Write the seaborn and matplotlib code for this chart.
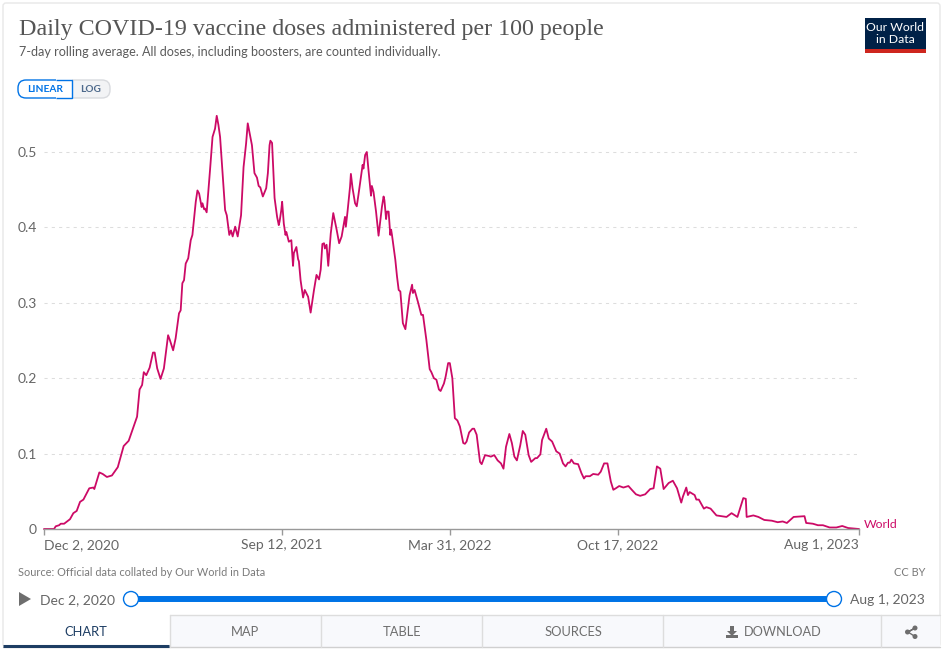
import matplotlib
matplotlib.use('Agg')

import pandas as pd
import matplotlib.pyplot as plt
from matplotlib.patches import Rectangle, Circle, Polygon, FancyBboxPatch
import seaborn as sns

start_date = "2020-12-02"
end_date = "2023-08-01"

# days since Dec 2, 2020
days = [0, 12, 14, 18, 20, 24, 31, 35, 39, 43, 47, 54, 59, 60, 66, 70, 75, 81, 88, 95,
        101, 111, 114, 117, 119, 122, 126, 130, 132, 135, 139, 143, 148, 150, 154, 157, 161, 163, 165, 167,
        169, 172, 175, 177, 181, 183, 185, 188, 189, 191, 192, 194, 198, 201, 204, 206, 208, 210, 214, 216,
        218, 221, 223, 225, 228, 231, 235, 238, 241, 243, 248, 251, 254, 256, 258, 261, 265, 267, 269, 270,
        272, 275, 278, 280, 281, 283, 284, 286, 288, 289, 292, 295, 297, 298, 301, 303, 304, 306, 309, 311,
        315, 318, 322, 325, 328, 330, 332, 334, 335, 337, 339, 342, 345, 349, 352, 355, 357, 359, 360, 362,
        365, 366, 368, 371, 373, 375, 378, 380, 381, 383, 385, 387, 390, 391, 393, 396, 399, 403, 405, 406,
        408, 409, 411, 413, 414, 415, 419, 421, 423, 425, 428, 431, 436, 439, 440, 442, 446, 450, 452, 456,
        460, 462, 465, 468, 471, 473, 477, 479, 482, 484, 487, 490, 493, 496, 500, 502, 504, 507, 511, 513,
        516, 520, 522, 526, 530, 533, 537, 541, 545, 548, 551, 555, 558, 561, 564, 568, 571, 574, 578, 581,
        586, 588, 592, 594, 599, 602, 606, 611, 615, 619, 622, 625, 627, 629, 632, 637, 641, 644, 646, 651,
        655, 661, 664, 668, 672, 676, 679, 682, 686, 691, 697, 701, 706, 711, 717, 723, 727, 731, 735, 739,
        745, 750, 755, 760, 762, 766, 768, 770, 776, 778, 781, 787, 790, 795, 802, 808, 814, 820, 827, 834,
        837, 838, 846, 852, 859, 868, 875, 881, 886, 894, 907, 909, 917, 923, 929, 937, 945, 952, 959, 972]

doses = [0, 0, .0036, .005, .007, .007, .013, .021, .024, .036, .039, .054, .055, .053, .075, .073, .069, .071, .082, .110,
         .117, .149, .185, .191, .208, .204, .214, .234, .234, .213, .199, .213, .257, .251, .237, .253, .286, .290, .326, .330,
         .352, .359, .383, .390, .434, .449, .445, .427, .432, .424, .425, .420, .476, .520, .531, .548, .536, .520, .454, .423,
         .416, .390, .396, .388, .401, .388, .416, .480, .511, .538, .509, .472, .466, .455, .453, .441, .452, .472, .509, .515,
         .512, .439, .414, .403, .408, .423, .434, .405, .390, .394, .381, .383, .349, .366, .374, .358, .355, .330, .307, .317,
         .308, .287, .317, .337, .331, .344, .378, .379, .372, .377, .349, .392, .419, .397, .379, .388, .401, .414, .401, .421,
         .454, .471, .452, .432, .428, .443, .467, .483, .478, .496, .500, .476, .442, .455, .447, .421, .389, .427, .441, .436,
         .411, .421, .421, .390, .397, .390, .357, .335, .317, .315, .273, .265, .310, .324, .313, .317, .301, .284, .284, .251,
         .212, .208, .200, .198, .185, .183, .193, .202, .220, .220, .200, .147, .144, .136, .114, .113, .116, .128, .133, .133,
         .125, .089, .086, .098, .097, .096, .098, .091, .087, .080, .109, .126, .114, .096, .091, .111, .130, .125, .098, .089,
         .094, .094, .099, .118, .133, .120, .116, .103, .100, .087, .083, .088, .088, .092, .087, .086, .074, .067, .070, .070,
         .073, .072, .076, .087, .087, .063, .052, .054, .057, .055, .057, .052, .046, .044, .046, .053, .054, .083, .080, .053,
         .061, .064, .054, .035, .043, .055, .045, .049, .045, .039, .039, .027, .029, .027, .018, .017, .016, .021, .016, .041,
         .040, .016, .018, .016, .012, .011, .009, .010, .008, .016, .017, .008, .007, .005, .005, .002, .002, .004, .0013, 0]

y_ticks = [0, 0.1, 0.2, 0.3, 0.4, 0.5]
y_labels = ["0", "0.1", "0.2", "0.3", "0.4", "0.5"]
x_ticks = ["2020-12-02", "2021-09-12", "2022-03-31", "2022-10-17", "2023-08-01"]
x_labels = ["Dec 2, 2020", "Sep 12, 2021", "Mar 31, 2022", "Oct 17, 2022", "Aug 1, 2023"]
tabs = ["CHART", "MAP", "TABLE", "SOURCES"]

LINE = "#cc0a66"
GREY = "#666666"
BLUE = "#0073e6"

sns.set_style("white")
plt.rcParams['font.family'] = ['Lato', 'DejaVu Sans']

W, H = 943, 649
fig = plt.figure(figsize=(W / 100, H / 100), dpi=100)

# page furniture, in pixels from the top left
ui = fig.add_axes([0, 0, 1, 1], zorder=0)
ui.set_xlim(0, W)
ui.set_ylim(H, 0)
ui.axis('off')

ui.add_patch(FancyBboxPatch((3, 3), 937, 644, boxstyle="round,pad=0,rounding_size=3",
                            fc="white", ec="#e8e8e8", lw=1))

ui.text(19, 30, "Daily COVID-19 vaccine doses administered per 100 people", family="Liberation Serif",
        fontsize=17.3, color="#555555", va="center")
ui.text(19, 52, "7-day rolling average. All doses, including boosters, are counted individually.",
        fontsize=9.13, color="#5b5b5b", va="center")

# logo
ui.add_patch(Rectangle((865, 18), 61, 35, fc="#002147", ec="none"))
ui.add_patch(Rectangle((865, 49), 61, 4, fc="#ce261e", ec="none"))
ui.text(895.5, 33.5, "Our World\nin Data", color="white", fontsize=8.8, ha="center", va="center", linespacing=1.1)

# linear / log toggle
ui.add_patch(FancyBboxPatch((60, 80), 50, 18, boxstyle="round,pad=0,rounding_size=8",
                            fc="#f2f3f5", ec="#d8dade", lw=1))
ui.add_patch(FancyBboxPatch((18, 80), 50, 18, boxstyle="round,pad=0,rounding_size=8",
                            fc="white", ec=BLUE, lw=1))
ui.add_patch(Rectangle((56, 79), 16, 20, fc="white", ec="none"))
ui.plot([56, 72, 72, 56], [80, 80, 98, 98], color=BLUE, lw=1, solid_capstyle="butt", solid_joinstyle="miter")
ui.text(45, 89.5, "LINEAR", color=BLUE, fontsize=7.3, fontweight="bold", ha="center", va="center")
ui.text(91, 89.5, "LOG", color="#4e6a8c", fontsize=7.3, fontweight="bold", ha="center", va="center")

ui.text(18, 572, "Source: Official data collated by Our World in Data", color="#7a7a7a", fontsize=7.94, va="center")
ui.text(925, 572, "CC BY", color="#7a7a7a", fontsize=7.94, ha="right", va="center")

# timeline slider
ui.add_patch(Polygon([(19, 592), (19, 606), (31, 599)], fc="#6e6e6e", ec="none"))
ui.text(40, 600, x_labels[0], color=GREY, fontsize=10, va="center")
ui.text(850, 600, x_labels[-1], color=GREY, fontsize=10, va="center")
ui.plot([131, 834], [599, 599], color=BLUE, lw=4.3, solid_capstyle="butt")
for cx in [131, 834]:
    ui.add_patch(Circle((cx, 599), 7.5, fc="white", ec=BLUE, lw=1, zorder=5))

# tab bar
ui.add_patch(Rectangle((170, 615), 770, 32, fc="#f8f9fc", ec="none"))
ui.plot([170, 940], [615, 615], color="#dddddd", lw=1)
ui.plot([3, 940], [647, 647], color="#d0d0d0", lw=1)
for sep in [170, 321, 482, 663, 881]:
    ui.plot([sep, sep], [615, 647], color="#dddddd", lw=1)
ui.plot([3, 169], [646, 646], color="#1d3d63", lw=2.2, solid_capstyle="butt")
for label, cx in zip(tabs, [86, 245, 402, 573]):
    ui.text(cx, 632, label, color="#1d3d63" if label == "CHART" else "#6e6e6e",
            fontsize=9.25, ha="center", va="center")
ui.text(744, 632, "DOWNLOAD", color="#6e6e6e", fontsize=9.15, va="center")
ui.add_patch(Polygon([(730, 626), (734, 626), (734, 631), (737, 631), (732, 636), (727, 631), (730, 631)],
                     fc="#6e6e6e", ec="none"))
ui.add_patch(Rectangle((726, 634.5), 12, 3.5, fc="#6e6e6e", ec="none"))
ui.plot([908, 915, 908], [632, 628, 632], color="#6e6e6e", lw=1)
ui.plot([908, 915], [632, 636.5], color="#6e6e6e", lw=1)
for cx, cy in [(907.5, 632), (915, 628), (915, 636.5)]:
    ui.add_patch(Circle((cx, cy), 2.5, fc="#6e6e6e", ec="none"))

# the chart itself
df = pd.DataFrame({"date": pd.to_datetime(start_date) + pd.to_timedelta(days, unit="D"), "doses": doses})

y_top = 0.56
ax = fig.add_axes([44 / W, (H - 529) / H, 815 / W, y_top * 754 / H], zorder=1)
ax.patch.set_alpha(0)
sns.lineplot(data=df, x="date", y="doses", color=LINE, lw=1.3, ax=ax, errorbar=None, clip_on=False)

ax.set_xlim(pd.to_datetime(start_date), pd.to_datetime(end_date))
ax.set_ylim(0, y_top)
ax.set_xlabel("")
ax.set_ylabel("")

ax.set_yticks(y_ticks)
ax.set_yticklabels(y_labels)
ax.set_xticks(pd.to_datetime(x_ticks))
ax.set_xticklabels(x_labels)
ax.tick_params(axis='y', length=0, pad=5, labelsize=10, labelcolor=GREY)
ax.tick_params(axis='x', length=4, width=1, color="#999999", pad=3, labelsize=10, labelcolor=GREY, bottom=True)
ax.get_xticklabels()[0].set_ha("left")
ax.get_xticklabels()[-1].set_ha("right")

ax.grid(axis='y', color="#dddddd", lw=0.75, ls=(0, (3, 4)))
ax.grid(axis='x', visible=False)
ax.set_axisbelow(True)
sns.despine(ax=ax, left=True)
ax.spines['bottom'].set_color("#999999")
ax.spines['bottom'].set_linewidth(1)

ax.annotate("World", xy=(1, 0), xycoords="axes fraction", xytext=(3.6, 3.6), textcoords="offset points",
            color=LINE, fontsize=8.8, va="center")

fig.savefig("out.png", dpi=100, facecolor="white")
